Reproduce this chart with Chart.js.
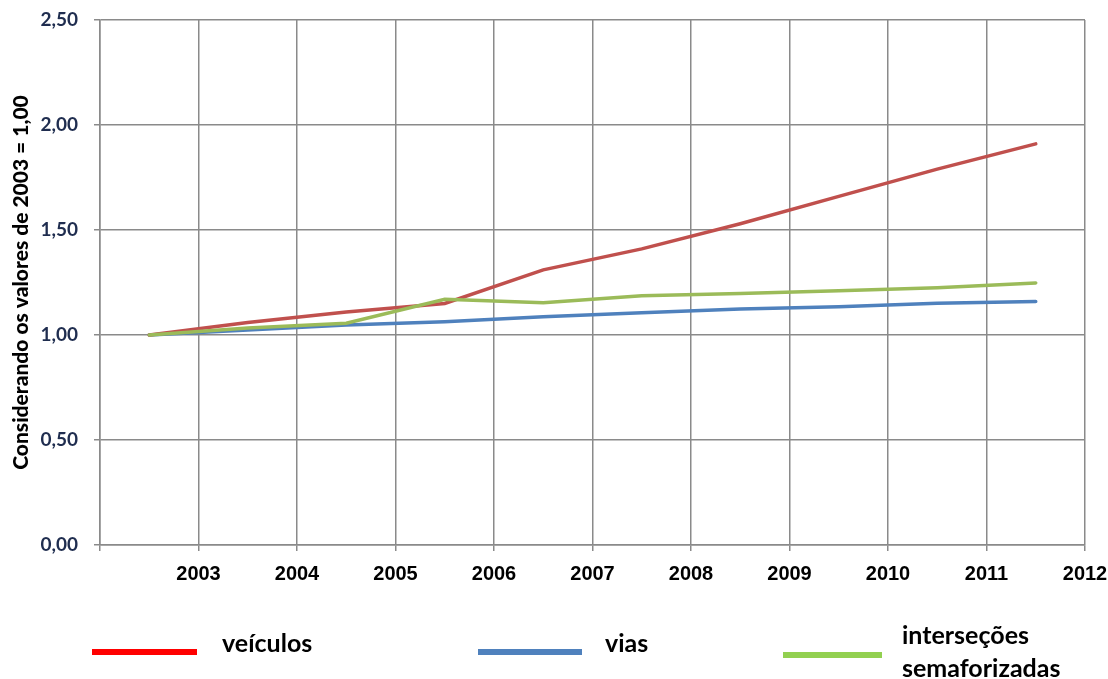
<!DOCTYPE html>
<html>
<head>
<meta charset="utf-8">
<script src="https://cdn.jsdelivr.net/npm/chart.js@4/dist/chart.umd.min.js"></script>
<style>
  html, body { margin: 0; padding: 0; background: #fff; }
  #wrap { width: 1108px; height: 679px; }
</style>
</head>
<body>
<div id="wrap"><canvas id="chart" width="1108" height="679"></canvas></div>
<script>
// índices (2003 = 1,00)
const yearLabels = ["2003", "2004", "2005", "2006", "2007", "2008", "2009", "2010", "2011", "2012"]
const veiculos = [1.00, 1.06, 1.11, 1.15, 1.31, 1.41, 1.53, 1.66, 1.79, 1.91]
const vias = [1.00, 1.024, 1.048, 1.063, 1.087, 1.106, 1.124, 1.135, 1.151, 1.159]
const intersecoes = [1.00, 1.033, 1.056, 1.17, 1.154, 1.187, 1.198, 1.211, 1.225, 1.248]
const yTicks = [0, 0.5, 1.0, 1.5, 2.0, 2.5]

// points sit halfway between the year gridlines
const toPoints = (arr) => arr.map((v, i) => ({ x: i + 0.5, y: v }))

const legendItems = [
  { label: ["veículos"], color: "#FF0000", x1: 92, x2: 197, y: 652, tx: 222, ty: 652 },
  { label: ["vias"], color: "#4F81BD", x1: 478, x2: 582, y: 652, tx: 605, ty: 652 },
  { label: ["interseções", "semaforizadas"], color: "#92D050", x1: 783, x2: 882, y: 655, tx: 902, ty: 644 },
]

const bottomLegend = {
  id: "bottomLegend",
  afterDraw(chart) {
    const ctx = chart.ctx
    ctx.save()
    legendItems.forEach(item => {
      ctx.strokeStyle = item.color
      ctx.lineWidth = 6
      ctx.beginPath()
      ctx.moveTo(item.x1, item.y)
      ctx.lineTo(item.x2, item.y)
      ctx.stroke()
      ctx.fillStyle = "#000"
      ctx.font = "bold 25px Lato, sans-serif"
      ctx.textBaseline = "alphabetic"
      item.label.forEach((line, i) => ctx.fillText(line, item.tx, item.ty + i * 33))
    })
    ctx.restore()
  },
}

new Chart(document.getElementById("chart"), {
  type: "line",
  data: {
    datasets: [
      { label: "veículos", data: toPoints(veiculos), borderColor: "#C0504D", order: 2 },
      { label: "vias", data: toPoints(vias), borderColor: "#4F81BD", order: 3 },
      { label: "interseções semaforizadas", data: toPoints(intersecoes), borderColor: "#9BBB59", order: 1 },
    ],
  },
  options: {
    responsive: false,
    animation: false,
    devicePixelRatio: 1,
    layout: { padding: { top: 20, right: 23, left: 0, bottom: 0 } },
    elements: {
      line: { borderWidth: 3.5, tension: 0, borderCapStyle: "round" },
      point: { radius: 0 },
    },
    plugins: { legend: { display: false }, tooltip: { enabled: false } },
    scales: {
      x: {
        type: "linear",
        min: 0,
        max: yearLabels.length,
        afterBuildTicks: (scale) => {
          scale.ticks = yearLabels.map((_, i) => ({ value: i })).concat([{ value: yearLabels.length }])
        },
        afterFit: (scale) => {
          scale.height = 134
          scale.paddingLeft = 0
          scale.paddingRight = 0
        },
        grid: { color: "#8A8A8A", lineWidth: 1.5, tickLength: 6 },
        border: { color: "#8A8A8A", width: 1.5 },
        ticks: {
          autoSkip: false,
          maxRotation: 0,
          padding: 11,
          color: "#000",
          font: { family: "'Liberation Sans', Arial, sans-serif", size: 20, weight: "bold" },
          callback: (v) => (v >= 1 ? yearLabels[v - 1] : ""),
        },
      },
      y: {
        min: 0,
        max: 2.5,
        afterBuildTicks: (scale) => { scale.ticks = yTicks.map(v => ({ value: v })) },
        afterFit: (scale) => {
          scale.width = 100
          scale.paddingTop = 0
          scale.paddingBottom = 0
        },
        grid: { color: "#8A8A8A", lineWidth: 1.5, tickLength: 6 },
        border: { color: "#8A8A8A", width: 1.5 },
        ticks: {
          padding: 16,
          color: "#1F2D4F",
          font: { family: "Lato, sans-serif", size: 19, weight: "bold" },
          callback: (v) => v.toFixed(2).replace(".", ","),
        },
        title: {
          display: true,
          text: "Considerando os valores de 2003 = 1,00",
          color: "#000",
          padding: { top: 9, bottom: 0 },
          font: { family: "Lato, sans-serif", size: 21, weight: "900" },
        },
      },
    },
  },
  plugins: [bottomLegend],
})
</script>
</body>
</html>
